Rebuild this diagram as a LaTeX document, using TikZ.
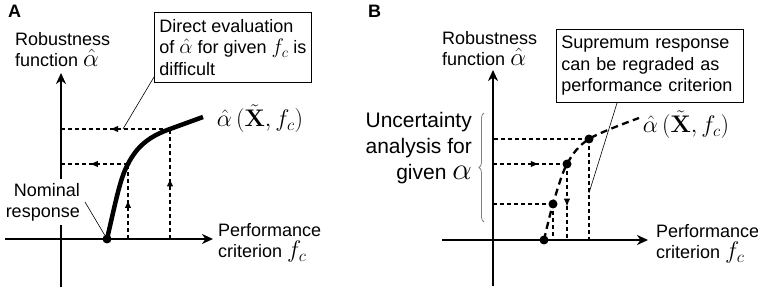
\RequirePackage{fix-cm}
\documentclass[tikz,border=0pt]{standalone}
\usepackage[no-math]{fontspec}
\setmainfont{Liberation Sans}
\usetikzlibrary{arrows.meta,decorations.markings,decorations.pathreplacing}
\begin{document}
\begin{tikzpicture}[x=1pt,y=-1pt,
  axis/.style={line width=2pt,-{Stealth[length=11pt,width=10pt,inset=3.5pt]}},
  guide/.style={line width=1.2pt,dash pattern=on 4pt off 3pt},
  midarrow/.style={postaction={decorate},decoration={markings,
      mark=at position #1 with {\arrow{Latex[length=8pt,width=6.5pt]}}}},
  lbl/.style={font=\fontsize{18}{21.5}\selectfont,inner sep=0pt},
  boxlbl/.style={font=\fontsize{18}{21.5}\selectfont,draw,line width=0.8pt,
      inner xsep=5pt,inner ysep=7pt,align=left},
  big/.style={font=\fontsize{24}{29}\selectfont,inner sep=0pt},
  dot/.style={circle,fill,inner sep=0pt,minimum size=9pt},
  leader/.style={line width=0.6pt},
  dcurve/.style={line width=2.3pt,dash pattern=on 7pt off 4.5pt}
]
\useasboundingbox (0,0) rectangle (758,291);

% ---------------- Panel A ----------------
\node[lbl,font=\fontsize{18}{21.5}\selectfont\bfseries,anchor=north west] (labA) at (8,5) {A};
\coordinate (Ao) at (61,239);
\coordinate (Ayb) at (61,287);
\coordinate (Ayt) at (61,73);
\coordinate (Axl) at (5,239);
\coordinate (Axr) at (213,239);
\draw[axis] (Ayb) -- (Ayt);
\draw[axis] (Axl) -- (Axr);

\node[lbl,align=left,anchor=north west] (robA) at (15,32)
  {Robustness\\function {\fontsize{25}{22}\selectfont$\hat\alpha$}};

\node[lbl,align=right,anchor=north east,fill=white,inner sep=4pt] (nomA) at (84,179)
  {Nominal\\response};

\node[lbl,align=left,anchor=north west] (perfA) at (218,223)
  {Performance\\criterion {\fontsize{24}{20}\selectfont$f_c$}};

\coordinate (A1) at (128,164);
\coordinate (A2) at (170,129);
\coordinate (Aend) at (203,117);
\coordinate (tipA) at (123,129);

\draw[guide,midarrow=0.52] (A1 |- Ao) -- (A1);
\draw[guide,midarrow=0.55] (A2 |- Ao) -- (A2);
\draw[guide,midarrow=0.57] (A1) -- (A1 -| Ao);
\draw[guide,midarrow=0.55] (A2) -- (A2 -| Ao);

\node[dot] (A0) at (107,239) {};
\draw[line width=4.5pt] (A0.center) .. controls (115,205) and (120,178) .. (A1)
   .. controls (137,146) and (150,136) .. (A2) -- (Aend);

\node[big] (fA) at (260,119) {$\hat\alpha\,\bigl(\tilde{\mathbf{X}},f_c\bigr)$};

\node[boxlbl,anchor=north west] (boxA) at (154,12)
  {Direct evaluation\\of {\fontsize{21}{21}\selectfont$\hat\alpha$} for given {\fontsize{21}{21}\selectfont$f_c$} is\\difficult};

\draw[leader] ([yshift=6pt]boxA.south west) -- (tipA);
\coordinate (nomEnd) at (85,202);
\draw[leader] (nomEnd) -- (A0);

% ---------------- Panel B ----------------
\node[lbl,font=\fontsize{18}{21.5}\selectfont\bfseries,anchor=north west] (labB) at (368,5) {B};
\coordinate (Bo) at (493,240);
\coordinate (Byb) at (493,286);
\coordinate (Byt) at (493,70);
\coordinate (Bxl) at (442,240);
\coordinate (Bxr) at (648,240);
\draw[axis] (Byb) -- (Byt);
\draw[axis] (Bxl) -- (Bxr);

\node[lbl,align=left,anchor=north west] (robB) at (442,31)
  {Robustness\\function {\fontsize{25}{22}\selectfont$\hat\alpha$}};

\node[lbl,align=left,anchor=north west] (perfB) at (656,224)
  {Performance\\criterion {\fontsize{24}{20}\selectfont$f_c$}};

\node[lbl,font=\fontsize{21}{26}\selectfont,align=right,anchor=north east] (uncB) at (472,112)
  {Uncertainty\\analysis for\\given {\fontsize{31}{26}\selectfont$\alpha$}};

\coordinate (brB) at (484,222);
\coordinate (brT) at (484,113);
\draw[gray,line width=0.8pt,decorate,decoration={brace,amplitude=5pt,aspect=0.5}] (brB) -- (brT);

\coordinate (B0) at (544,240);
\coordinate (B1) at (553,204);
\coordinate (B2) at (567,164);
\coordinate (B3) at (589,139);
\coordinate (Bend) at (639,118);
\coordinate (tipB) at (589,193);

\draw[guide] (B3) -- (B3 -| Bo);
\draw[guide,midarrow=0.62] (B2 -| Bo) -- (B2);
\draw[guide] (B1) -- (B1 -| Bo);
\draw[guide] (B1) -- (B1 |- Bo);
\draw[guide,midarrow=0.56] (B2) -- (B2 |- Bo);
\draw[guide] (B3) -- (B3 |- Bo);

\draw[dcurve] plot[smooth,tension=0.55] coordinates {(B0) (B1) (B2) (B3) (Bend)};

\node[dot] (dB0) at (B0) {};
\node[dot] (dB1) at (B1) {};
\node[dot] (dB2) at (B2) {};
\node[dot] (dB3) at (B3) {};

\node[big] (fB) at (686,125) {$\hat\alpha\,\bigl(\tilde{\mathbf{X}},f_c\bigr)$};

\node[boxlbl,anchor=north west,text width=177pt,inner xsep=5pt,inner ysep=7pt] (boxB) at (556,29)
  {Supremum response\\can be regraded as\\performance criterion};

\draw[leader] ([xshift=61pt]boxB.south west) -- (tipB);
\end{tikzpicture}
\end{document}
